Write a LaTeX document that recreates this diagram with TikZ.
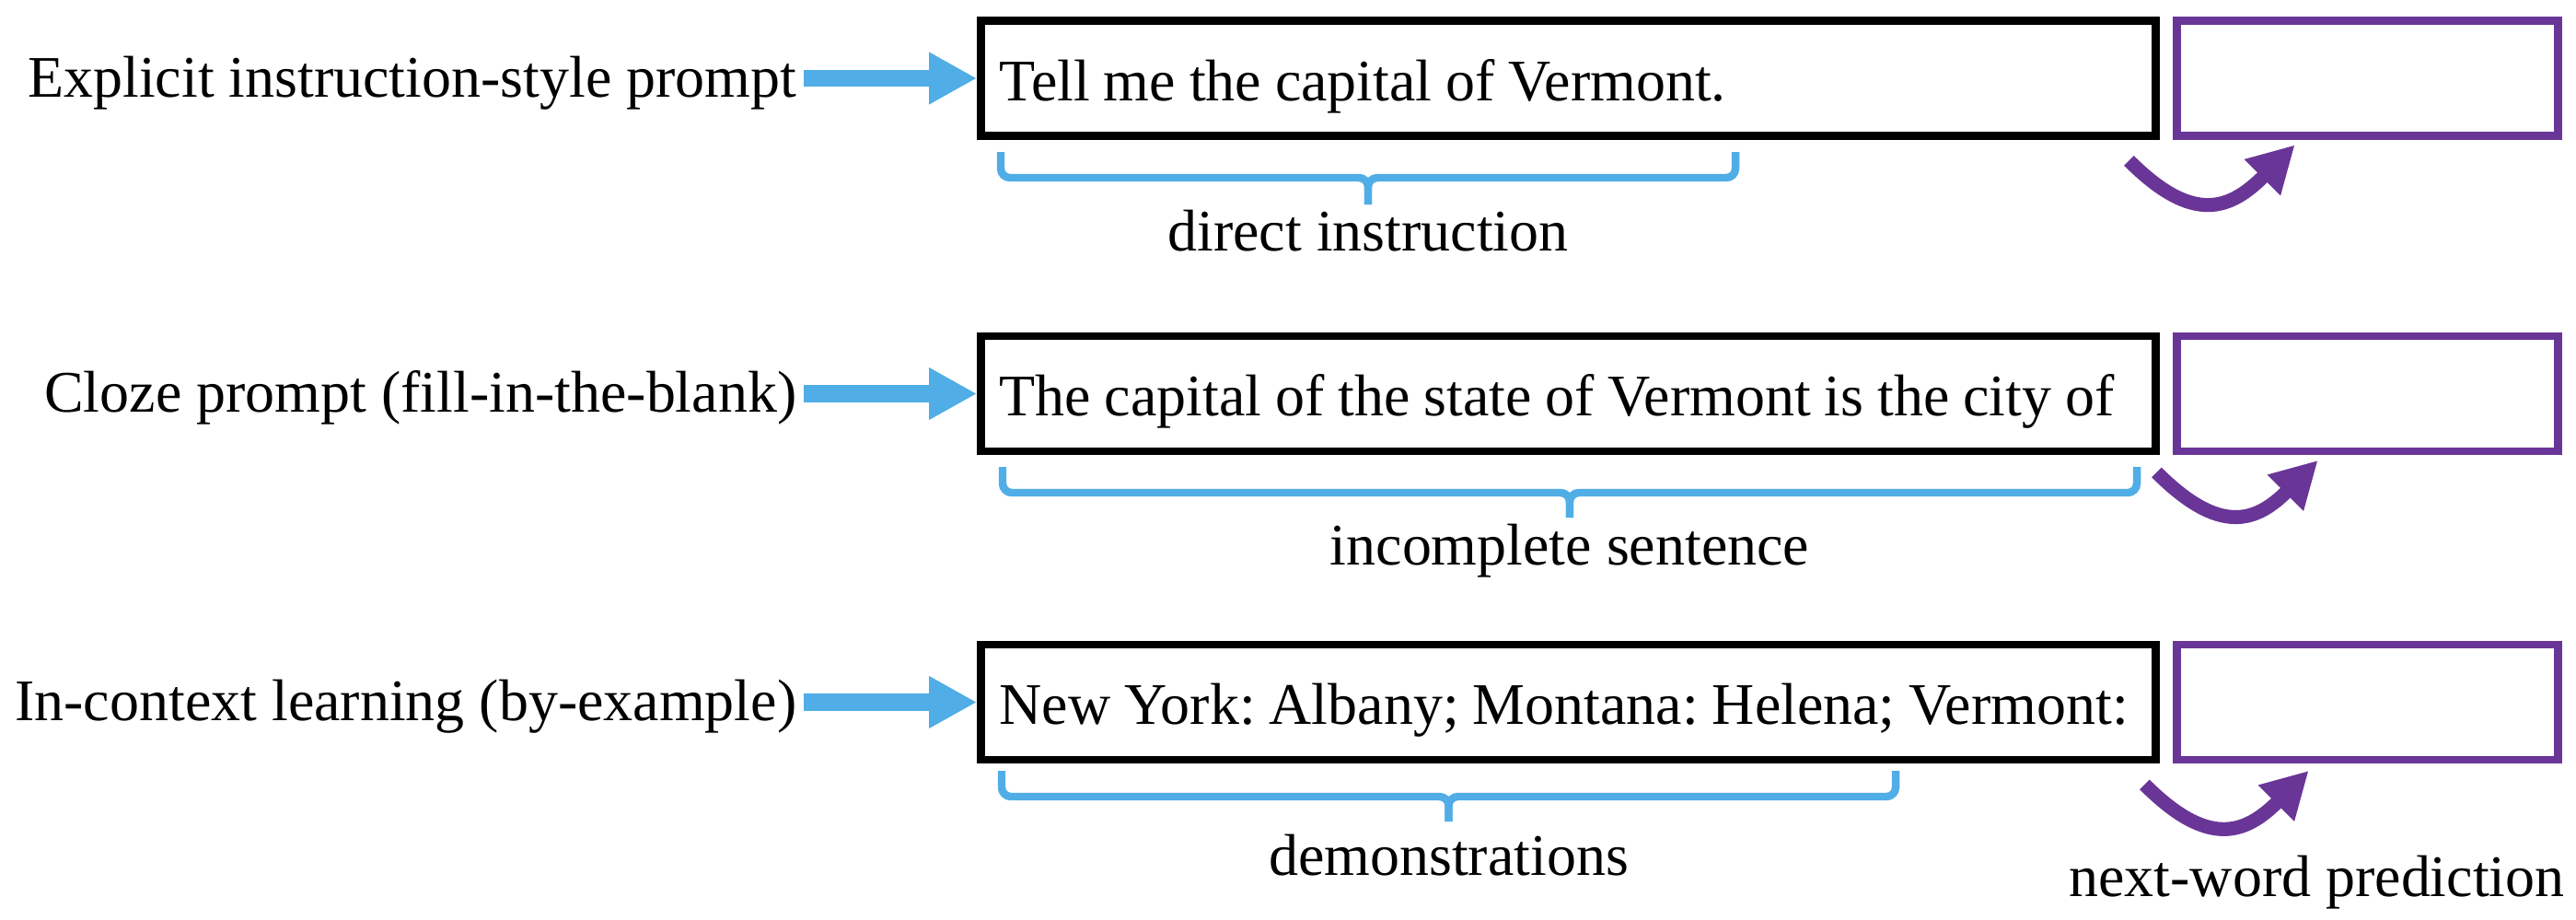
\documentclass[tikz,border=0pt]{standalone}
\usepackage{fontspec}
\setmainfont{Liberation Serif}
\newfontfamily\promptfont{Liberation Serif}[WordSpace=0.93]
\frenchspacing
\usetikzlibrary{arrows.meta}
\definecolor{feedblue}{RGB}{80,173,230}
\definecolor{predpurple}{RGB}{105,54,152}
\tikzset{
  every node/.style={font=\fontsize{18.2}{22}\selectfont},
  kindlabel/.style={anchor=base east, inner xsep=0.07cm, inner ysep=0pt},
  promptbox/.style={draw=black, line width=2.5pt, minimum width=12.76cm, minimum height=1.25cm,
    text width=12.36cm, align=flush left, inner xsep=0.2cm, text height=0.48cm, text depth=0pt,
    font=\promptfont\fontsize{18.2}{22}\selectfont},
  predbox/.style={draw=predpurple, line width=2.5pt, minimum width=4.14cm, minimum height=1.25cm},
  feedarrow/.style={draw=feedblue, line width=5.3pt, -{Triangle[length=0.52cm,width=0.53cm]}},
  predarrow/.style={draw=predpurple, line width=4.3pt, -{Triangle[length=0.5cm,width=0.52cm]}, looseness=1.4},
  spanline/.style={draw=feedblue, line width=2.4pt, rounded corners=0.1cm},
  spanlabel/.style={anchor=base, inner sep=0pt},
}

\begin{document}
\begin{tikzpicture}

\useasboundingbox (0,0) rectangle (27.98,-9.98);

% prompt kinds
\node[kindlabel] (kind1) at (8.73,-1.05) {Explicit instruction-style prompt};
\node[kindlabel] (kind2) at (8.73,-4.475) {Cloze prompt (fill-in-the-blank)};
\node[kindlabel] (kind3) at (8.73,-7.825) {In-context learning (by-example)};

% prompts
\node[promptbox] (box1) at (17.035,-0.85) {Tell me the capital of Vermont.};
\node[promptbox] (box2) at (17.035,-4.275) {The capital of the state of Vermont is the city of};
\node[promptbox] (box3) at (17.035,-7.625) {New York: Albany; Montana: Helena; Vermont:};

% empty slots for the next word
\node[predbox] (pbox1) at (25.715,-0.85) {};
\node[predbox] (pbox2) at (25.715,-4.275) {};
\node[predbox] (pbox3) at (25.715,-7.625) {};

\draw[feedarrow] (kind1.east |- box1.west) -- (box1.west);
\draw[feedarrow] (kind2.east |- box2.west) -- (box2.west);
\draw[feedarrow] (kind3.east |- box3.west) -- (box3.west);

\draw[predarrow] ([xshift=-0.335cm,yshift=-0.225cm]box1.south east) to[out=-45,in=-135] ([xshift=1.325cm,yshift=-0.055cm]pbox1.south west);
\draw[predarrow] ([xshift=-0.035cm,yshift=-0.185cm]box2.south east) to[out=-45,in=-135] ([xshift=1.575cm,yshift=-0.055cm]pbox2.south west);
\draw[predarrow] ([xshift=-0.165cm,yshift=-0.225cm]box3.south east) to[out=-45,in=-135] ([xshift=1.475cm,yshift=-0.075cm]pbox3.south west);

% spans under the prompts
\draw[spanline] (10.87,-1.65) -- (10.87,-1.93) -- (14.86,-1.93) -- (14.86,-2.22);
\draw[spanline] (18.85,-1.65) -- (18.85,-1.93) -- (14.86,-1.93) -- (14.86,-2.22);
\node[spanlabel] (span1) at (14.86,-2.72) {direct instruction};

\draw[spanline] (10.89,-5.07) -- (10.89,-5.35) -- (17.05,-5.35) -- (17.05,-5.62);
\draw[spanline] (23.21,-5.07) -- (23.21,-5.35) -- (17.05,-5.35) -- (17.05,-5.62);
\node[spanlabel] (span2) at (17.05,-6.13) {incomplete sentence};

\draw[spanline] (10.88,-8.37) -- (10.88,-8.65) -- (15.735,-8.65) -- (15.735,-8.92);
\draw[spanline] (20.59,-8.37) -- (20.59,-8.65) -- (15.735,-8.65) -- (15.735,-8.92);
\node[spanlabel] (span3) at (15.735,-9.50) {demonstrations};

\node[spanlabel] (nextword) at (25.165,-9.73) {next-word prediction};

\end{tikzpicture}
\end{document}
